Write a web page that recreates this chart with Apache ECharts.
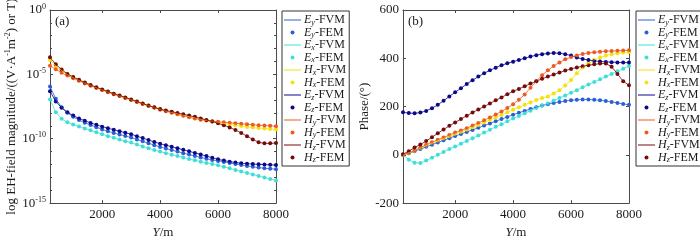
<!DOCTYPE html>
<html>
<head>
<meta charset="utf-8">
<script src="https://cdn.jsdelivr.net/npm/echarts@6/dist/echarts.min.js"></script>
<style>
  html, body { margin: 0; padding: 0; background: #fff; }
  #chart { width: 700px; height: 244px; }
</style>
</head>
<body>
<div id="chart"></div>
<script>
// receiver position along the profile (m)
const Y_POS = [200, 400, 600, 800, 1000, 1200, 1400, 1600, 1800, 2000,
  2200, 2400, 2600, 2800, 3000, 3200, 3400, 3600, 3800, 4000,
  4200, 4400, 4600, 4800, 5000, 5200, 5400, 5600, 5800, 6000,
  6200, 6400, 6600, 6800, 7000, 7200, 7400, 7600, 7800, 8000];

// (a) log10 of field magnitude
const magEy = [-5.95, -6.9, -7.55, -7.98, -8.3, -8.55, -8.76, -8.94, -9.1, -9.28,
  -9.42, -9.55, -9.67, -9.79, -9.91, -10.05, -10.2, -10.35, -10.5, -10.64,
  -10.76, -10.88, -11.0, -11.12, -11.23, -11.34, -11.45, -11.56, -11.65, -11.72,
  -11.8, -11.88, -11.96, -12.04, -12.11, -12.18, -12.24, -12.29, -12.33, -12.37];
const magEx = [-6.95, -7.95, -8.45, -8.72, -8.9, -9.05, -9.2, -9.35, -9.5, -9.65,
  -9.8, -9.93, -10.06, -10.19, -10.3, -10.45, -10.6, -10.74, -10.88, -11.0,
  -11.12, -11.24, -11.35, -11.46, -11.57, -11.68, -11.78, -11.88, -11.97, -12.06,
  -12.18, -12.3, -12.42, -12.54, -12.66, -12.78, -12.9, -13.02, -13.13, -13.24];
const magHx = [-3.88, -4.33, -4.7, -5.0, -5.23, -5.45, -5.65, -5.84, -6.02, -6.19,
  -6.35, -6.51, -6.66, -6.81, -6.96, -7.11, -7.27, -7.42, -7.57, -7.71,
  -7.83, -7.95, -8.06, -8.17, -8.28, -8.38, -8.48, -8.57, -8.66, -8.74,
  -8.81, -8.88, -8.95, -9.02, -9.08, -9.13, -9.17, -9.21, -9.25, -9.28];
const magEz = [-6.31, -7.1, -7.6, -7.95, -8.2, -8.42, -8.6, -8.77, -8.92, -9.06,
  -9.18, -9.3, -9.42, -9.53, -9.65, -9.8, -9.95, -10.1, -10.25, -10.39,
  -10.5, -10.62, -10.74, -10.86, -10.98, -11.1, -11.22, -11.35, -11.48, -11.6,
  -11.7, -11.78, -11.85, -11.9, -11.94, -11.97, -11.99, -12.01, -12.03, -12.05];
const magHy = [-4.33, -4.6, -4.88, -5.08, -5.3, -5.5, -5.7, -5.88, -6.05, -6.22,
  -6.38, -6.54, -6.69, -6.84, -6.99, -7.14, -7.3, -7.45, -7.6, -7.74,
  -7.86, -7.98, -8.1, -8.22, -8.33, -8.43, -8.52, -8.58, -8.64, -8.68,
  -8.72, -8.76, -8.8, -8.84, -8.88, -8.92, -8.95, -8.98, -9.0, -9.03];
const magHz = [-3.68, -4.22, -4.62, -4.97, -5.2, -5.42, -5.63, -5.82, -6.0, -6.17,
  -6.33, -6.5, -6.64, -6.79, -6.95, -7.1, -7.26, -7.42, -7.56, -7.7,
  -7.8, -7.9, -8.0, -8.1, -8.2, -8.3, -8.42, -8.54, -8.66, -8.8,
  -8.95, -9.12, -9.32, -9.55, -9.8, -10.05, -10.28, -10.36, -10.36, -10.33];

// (b) phase in degrees
const phEy = [0, 7, 15, 24, 33, 42, 51, 60, 69, 78,
  86, 95, 103, 112, 121, 130, 139, 148, 157, 166,
  174, 182, 190, 197, 204, 210, 215, 219, 223, 226,
  228, 229, 229, 228, 226, 223, 219, 215, 211, 207];
const phEx = [0, -20, -33, -34, -24, -12, 0, 12, 24, 35,
  46, 57, 69, 80, 92, 104, 116, 127, 139, 150,
  161, 172, 183, 194, 204, 213, 224, 235, 246, 257,
  268, 280, 291, 302, 313, 324, 335, 346, 357, 368];
const phHx = [0, 8, 17, 28, 39, 49, 58, 68, 77, 86,
  95, 104, 114, 124, 134, 144, 155, 165, 176, 187,
  197, 207, 217, 227, 235, 242, 254, 268, 287, 310,
  338, 362, 379, 393, 403, 411, 417, 421, 424, 426];
const phEz = [176, 173, 172, 175, 182, 193, 207, 224, 242, 259,
  276, 293, 309, 324, 338, 350, 361, 371, 379, 386,
  393, 400, 407, 413, 417, 420, 422, 421, 417, 411,
  403, 397, 393, 389, 387, 385, 384, 383, 382, 382];
const phHy = [0, 8, 18, 30, 42, 52, 62, 72, 82, 92,
  101, 110, 121, 132, 143, 155, 167, 180, 194, 210,
  228, 250, 278, 305, 330, 350, 368, 383, 396, 405,
  412, 418, 422, 425, 427, 429, 430, 431, 432, 433];
const phHz = [2, 15, 30, 43, 57, 73, 89, 105, 120, 134,
  148, 162, 175, 188, 200, 213, 226, 238, 251, 263,
  273, 284, 295, 305, 315, 324, 333, 341, 349, 356,
  362, 367, 371, 375, 378, 378, 365, 335, 305, 288];

const X_TICKS = [2000, 4000, 6000, 8000];

const COMPONENTS = ['Ey', 'Ex', 'Hx', 'Ez', 'Hy', 'Hz'];
const COLORS = {
  Ey: '#2a5fd6', Ex: '#3fdfd6', Hx: '#f2e20e',
  Ez: '#0a0a8a', Hy: '#ef5a22', Hz: '#760b0b'
};
const MAG = { Ey: magEy, Ex: magEx, Hx: magHx, Ez: magEz, Hy: magHy, Hz: magHz };
const PHASE = { Ey: phEy, Ex: phEx, Hx: phHx, Ez: phEz, Hy: phHy, Hz: phHz };

const FONT = 'Liberation Serif';
const AXIS_COLOR = '#4a4a4a';
const TEXT_COLOR = '#1a1a1a';

// thin horizontal bar inside a 17x4 box, so the legend keeps it 1px tall
const LINE_ICON = 'path://M0,0L0,0M0,1.5L17,1.5L17,2.5L0,2.5ZM17,4L17,4';

const legendItems = [];
COMPONENTS.forEach((c) => {
  legendItems.push({ name: c + '-FVM', icon: LINE_ICON });
  legendItems.push({ name: c + '-FEM', icon: 'circle' });
});

function buildSeries(panel, table) {
  const out = [];
  COMPONENTS.forEach((c) => {
    const pts = Y_POS.map((y, i) => [y, table[c][i]]);
    out.push({
      name: c + '-FVM', type: 'line', xAxisIndex: panel * 2, yAxisIndex: panel * 2,
      data: pts, symbol: 'none', silent: true,
      lineStyle: { width: 1, color: COLORS[c], opacity: 0.8 },
      itemStyle: { color: COLORS[c] }
    });
    out.push({
      name: c + '-FEM', type: 'scatter', xAxisIndex: panel * 2, yAxisIndex: panel * 2,
      data: pts, symbol: 'circle', symbolSize: 4, silent: true,
      itemStyle: { color: COLORS[c], opacity: 1 }
    });
  });
  return out;
}

function xAxes(grid) {
  const base = {
    gridIndex: grid, type: 'value', min: 200, max: 8000,
    axisLine: { show: true, onZero: false, lineStyle: { color: AXIS_COLOR, width: 1 } },
    axisTick: { inside: true, length: 3, customValues: X_TICKS, lineStyle: { color: AXIS_COLOR } },
    splitLine: { show: false }
  };
  return [
    Object.assign({}, base, {
      position: 'bottom',
      axisLabel: {
        customValues: X_TICKS, margin: 5, formatter: (v) => String(v),
        fontFamily: FONT, fontSize: 13, color: TEXT_COLOR
      },
      name: '{i|Y}{r|/m}', nameLocation: 'middle', nameGap: 17,
      nameTextStyle: {
        rich: {
          i: { fontFamily: FONT, fontSize: 13, fontStyle: 'italic', color: TEXT_COLOR },
          r: { fontFamily: FONT, fontSize: 13, color: TEXT_COLOR }
        }
      }
    }),
    Object.assign({}, base, { position: 'top', axisLabel: { show: false } })
  ];
}

function yAxes(grid, min, max, interval, labelFmt, name, nameGap, minor) {
  const base = {
    gridIndex: grid, type: 'value', min: min, max: max, interval: interval,
    axisLine: { show: true, onZero: false, lineStyle: { color: AXIS_COLOR, width: 1 } },
    axisTick: { inside: true, length: 3, lineStyle: { color: AXIS_COLOR } },
    minorTick: { show: minor, splitNumber: 5, length: 2, lineStyle: { color: AXIS_COLOR } },
    splitLine: { show: false }
  };
  return [
    Object.assign({}, base, {
      position: 'left',
      axisLabel: {
        margin: 4, formatter: labelFmt,
        fontFamily: FONT, fontSize: 13, color: TEXT_COLOR,
        rich: {
          b: { fontFamily: FONT, fontSize: 13, color: TEXT_COLOR, lineHeight: 15 },
          s: { fontFamily: FONT, fontSize: 8, color: TEXT_COLOR, verticalAlign: 'top', lineHeight: 15 }
        }
      },
      name: name, nameLocation: 'middle', nameGap: nameGap, nameRotate: 90,
      nameTextStyle: {
        fontFamily: FONT, fontSize: 13, color: TEXT_COLOR,
        rich: {
          a: { fontFamily: FONT, fontSize: 13, color: TEXT_COLOR, lineHeight: 15 },
          s: { fontFamily: FONT, fontSize: 8, color: TEXT_COLOR, verticalAlign: 'top', lineHeight: 15 }
        }
      }
    }),
    Object.assign({}, base, { position: 'right', axisLabel: { show: false } })
  ];
}

function legendAt(left) {
  return {
    orient: 'vertical', left: left, top: 11, data: legendItems,
    itemWidth: 17, itemHeight: 4, itemGap: 0,
    padding: [3, 3, 2, 2],
    borderColor: '#333', borderWidth: 1, backgroundColor: '#fff',
    selectedMode: false,
    formatter: (n) => {
      const [f, m] = n.split('-');
      return '{i|' + f[0] + '}{sub|' + f[1] + '}{r|-' + m + '}';
    },
    textStyle: {
      padding: [0, 0, 0, -2],
      rich: {
        i: { fontFamily: FONT, fontSize: 12, fontStyle: 'italic', color: TEXT_COLOR, lineHeight: 13 },
        sub: { fontFamily: FONT, fontSize: 8, fontStyle: 'italic', color: TEXT_COLOR, verticalAlign: 'bottom', lineHeight: 13 },
        r: { fontFamily: FONT, fontSize: 12, color: TEXT_COLOR, lineHeight: 13 }
      }
    }
  };
}

const chart = echarts.init(document.getElementById('chart'), null, { renderer: 'canvas' });

const option = {
  backgroundColor: '#fff',
  animation: false,
  title: [
    { text: '(a)', left: 55, top: 15, padding: 0, textStyle: { fontFamily: FONT, fontSize: 13, fontWeight: 'normal', color: TEXT_COLOR } },
    { text: '(b)', left: 408, top: 15, padding: 0, textStyle: { fontFamily: FONT, fontSize: 13, fontWeight: 'normal', color: TEXT_COLOR } }
  ],
  grid: [
    { left: 50, top: 10, width: 226, height: 202 },
    { left: 403, top: 10, width: 226, height: 202 }
  ],
  legend: [legendAt(282), legendAt(636)],
  xAxis: xAxes(0).concat(xAxes(1)),
  yAxis: yAxes(0, -15, 0, 5, (v) => '{b|10}{s|' + v + '}',
      '{a|log EH-field magnitude/((V·A}{s|-1}{a|m}{s|-2}{a|) or T)}', 31, true)
    .concat(yAxes(1, -200, 600, 200, (v) => '{b|' + v + '}', '{a|Phase/(°)}', 29, false)),
  series: buildSeries(0, MAG).concat(buildSeries(1, PHASE))
};

chart.setOption(option);
</script>
</body>
</html>
